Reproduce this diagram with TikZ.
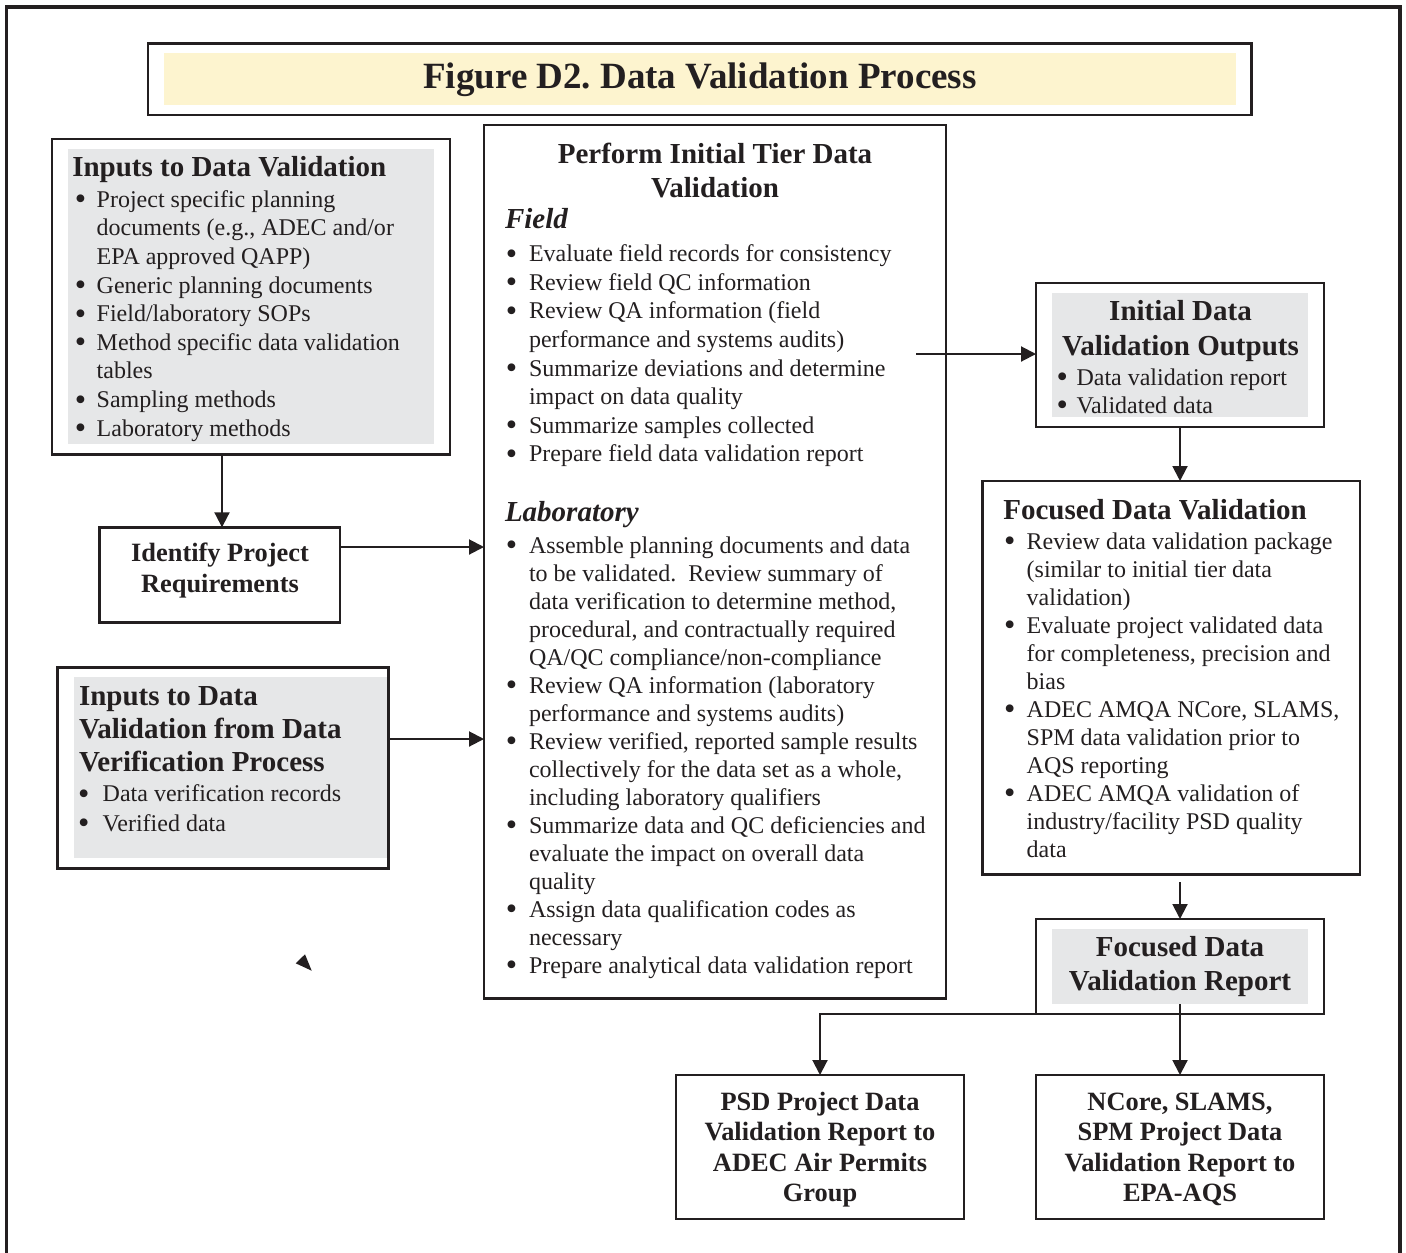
\documentclass[tikz,border=0pt]{standalone}
\usepackage{fontspec}
\setmainfont{Liberation Serif}
\usetikzlibrary{arrows.meta,fit}
\definecolor{ink}{HTML}{231F20}
\definecolor{titlefill}{HTML}{FDF4CF}
\definecolor{panelfill}{HTML}{E6E7E8}
\newlength\bulw
\newcommand\bi{\makebox[\bulw][l]{\raisebox{-1.3pt}[0pt][0pt]{\scalebox{1.35}{\textbullet}}}}
\newcommand\bc{\hspace*{\bulw}}
\newcommand\bodytop{\rule{0pt}{10pt}}
\newcommand\headtop{\rule{0pt}{12pt}}
\newcommand\smalltop{\rule{0pt}{11pt}}
\frenchspacing
\begin{document}
\begin{tikzpicture}[x=0.5pt,y=-0.5pt,
  frame/.style={draw=ink,line width=1.3pt,inner sep=0pt,outer sep=0pt},
  panel/.style={fill=#1,draw=none,inner sep=0pt,outer sep=0pt},
  flow/.style={draw=ink,line width=1pt,-{Triangle[length=7.5pt,width=7.5pt]}},
  txt/.style={inner sep=0pt,outer sep=0pt,text=ink},
  bw/.code={\setlength\bulw{#1}},
  body/.style={txt,align=left,anchor=north west,font=\fontsize{12}{#1}\selectfont},
  head/.style={txt,font=\fontsize{14.5}{#1}\selectfont\bfseries},
  subhead/.style={txt,anchor=base west,font=\fontsize{14.5}{17}\selectfont\bfseries\itshape},
  boxhead/.style={txt,align=center,anchor=north,font=\fontsize{13.2}{#1}\selectfont\bfseries},
]
\useasboundingbox (0,0) rectangle (1406,1252);

% outer frame (open at the bottom edge of the page)
\draw[ink,line width=1.8pt] (6.3,1270) -- (6.3,7) -- (1400,7) -- (1400,1270);

% ---- title ----
\node[frame,fit={(148,43.3) (1251.7,114.8)}] (titlebox) {};
\node[panel=titlefill,fit={(163.7,52.7) (1236,105)}] (titlepanel) {};
\node[txt,anchor=base,font=\fontsize{18.5}{22}\selectfont\bfseries] (title) at (700,89)
  {Figure D2. Data Validation Process};

% ---- inputs to data validation ----
\node[frame,fit={(51.8,139) (450,454.5)}] (inputs) {};
\node[panel=panelfill,fit={(67.7,149) (434,444.3)}] (inputspanel) {};
\node[head=17,anchor=base west] (inputshead) at (72.3,176.7) {Inputs to Data Validation};
\node[body=14.3,bw=10.95pt] (inputslist) at (74.8,187.3) {\bodytop\bi Project specific planning\\
\bc documents (e.g., ADEC and/or\\
\bc EPA approved QAPP)\\
\bi Generic planning documents\\
\bi Field/laboratory SOPs\\
\bi Method specific data validation\\
\bc tables\\
\bi Sampling methods\\
\bi Laboratory methods};

% ---- identify project requirements ----
\node[frame,fit={(99.7,527.3) (340,622.7)}] (identify) {};
\node[boxhead=15.5] (identifytext) at (220,539.7) {\smalltop Identify Project\\Requirements};

% ---- inputs from data verification ----
\node[frame,fit={(57.3,667.3) (388.3,868.7)}] (verif) {};
\node[panel=panelfill,fit={(74,677.3) (386.7,858.3)}] (verifpanel) {};
\node[head=16.5,align=left,anchor=north west] (verifhead) at (79,681)
  {\headtop Inputs to Data\\Validation from Data\\Verification Process};
\node[body=14.65,bw=12.3pt] (veriflist) at (78.1,781.7) {\bodytop\bi Data verification records\\
\bi Verified data};

% ---- initial tier data validation ----
\node[frame,fit={(484,125) (946,998.3)}] (main) {};
\node[head=17,align=center,anchor=north] (mainhead) at (715,139.3)
  {\headtop Perform Initial Tier Data\\Validation};
\node[subhead] (fieldhead) at (505,228.3) {Field};
\node[body=14.3,bw=11.6pt] (fieldlist) at (505.8,241.7) {\bodytop\bi Evaluate field records for consistency\\
\bi Review field QC information\\
\bi Review QA information (field\\
\bc performance and systems audits)\\
\bi Summarize deviations and determine\\
\bc impact on data quality\\
\bi Summarize samples collected\\
\bi Prepare field data validation report};
\node[subhead] (labhead) at (505,521.7) {Laboratory};
\node[body=14,bw=11.6pt] (lablist) at (505.8,533.3) {\bodytop\bi Assemble planning documents and data\\
\bc to be validated.\ \ Review summary of\\
\bc data verification to determine method,\\
\bc procedural, and contractually required\\
\bc QA/QC compliance/non-compliance\\
\bi Review QA information (laboratory\\
\bc performance and systems audits)\\
\bi Review verified, reported sample results\\
\bc collectively for the data set as a whole,\\
\bc including laboratory qualifiers\\
\bi Summarize data and QC deficiencies and\\
\bc evaluate the impact on overall data\\
\bc quality\\
\bi Assign data qualification codes as\\
\bc necessary\\
\bi Prepare analytical data validation report};

% ---- initial data validation outputs ----
\node[frame,fit={(1036,283) (1324,427)}] (initout) {};
\node[panel=panelfill,fit={(1051.7,293) (1308.3,417)}] (initoutpanel) {};
\node[head=17.15,align=center,anchor=north] (initouthead) at (1180.5,296.7)
  {\headtop Initial Data\\Validation Outputs};
\node[body=14.15,bw=10pt] (initoutlist) at (1056.5,365) {\bodytop\bi Data validation report\\
\bi Validated data};

% ---- focused data validation ----
\node[frame,fit={(982.3,481) (1360,874.3)}] (focused) {};
\node[head=17,anchor=base west] (focusedhead) at (1003.3,519.3) {Focused Data Validation};
\node[body=14,bw=11.3pt] (focusedlist) at (1004.1,529) {\bodytop\bi Review data validation package\\
\bc (similar to initial tier data\\
\bc validation)\\
\bi Evaluate project validated data\\
\bc for completeness, precision and\\
\bc bias\\
\bi ADEC AMQA NCore, SLAMS,\\
\bc SPM data validation prior to\\
\bc AQS reporting\\
\bi ADEC AMQA validation of\\
\bc industry/facility PSD quality\\
\bc data};

% ---- focused data validation report ----
\node[frame,fit={(1036,919) (1324,1014)}] (report) {};
\node[panel=panelfill,fit={(1052,929) (1308,1004)}] (reportpanel) {};
\node[head=16.65,align=center,anchor=north] (reporthead) at (1180,932.7)
  {\headtop Focused Data\\Validation Report};

% ---- final reports ----
\node[frame,fit={(676,1075) (964,1219)}] (psd) {};
\node[boxhead=15.3] (psdtext) at (820,1088)
  {\smalltop PSD Project Data\\Validation Report to\\ADEC Air Permits\\Group};
\node[frame,fit={(1036,1075) (1324,1219)}] (ncore) {};
\node[boxhead=15.3] (ncoretext) at (1180,1088)
  {\smalltop NCore, SLAMS,\\SPM Project Data\\Validation Report to\\EPA-AQS};

% ---- connectors ----
\coordinate (c1) at (222,0);
\draw[flow] (c1 |- inputs.south) -- (c1 |- identify.north);
\coordinate (c2) at (0,547);
\draw[flow] (identify.east |- c2) -- (main.west |- c2);
\coordinate (c3) at (0,739);
\draw[flow] (verif.east |- c3) -- (main.west |- c3);
\coordinate (c4) at (916,354);
\draw[flow] (c4) -- (c4 -| initout.west);
\draw[flow] (initout.south) -- (initout.south |- focused.north);
\coordinate (c5) at (1180,882);
\draw[flow] (c5) -- (report.north);
\draw[flow] (reportpanel.south) -- (ncore.north);
\draw[flow] (report.south west) -| (psd.north);

% loose arrowhead below the verification box
\fill[ink] (295.7,963.3) -- (305,954.3) -- (311.7,970.7) -- cycle;
\end{tikzpicture}
\end{document}
